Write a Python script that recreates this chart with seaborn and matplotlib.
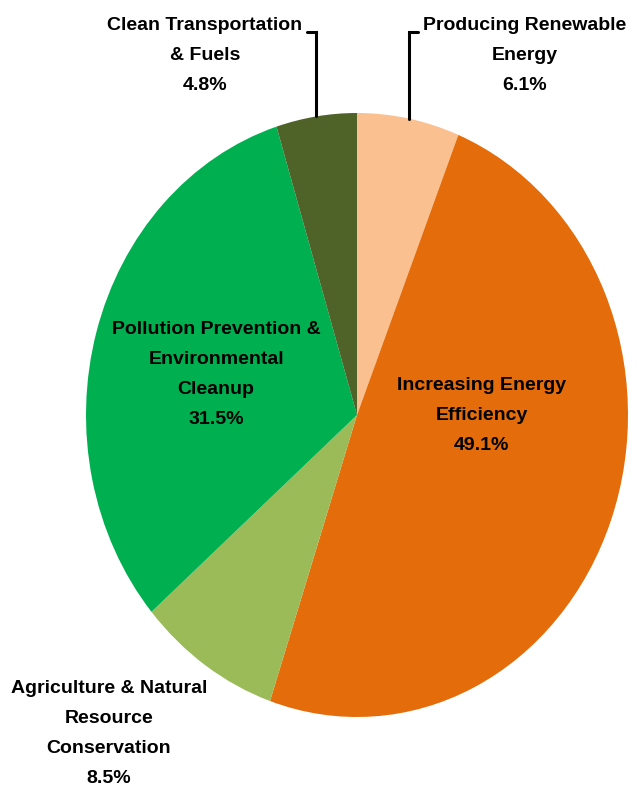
import matplotlib

matplotlib.use("Agg")

import matplotlib.pyplot as plt
import numpy as np
import seaborn as sns

categories = [
    "Producing Renewable\nEnergy",
    "Increasing Energy\nEfficiency",
    "Agriculture & Natural\nResource\nConservation",
    "Pollution Prevention &\nEnvironmental\nCleanup",
    "Clean Transportation\n& Fuels",
]
shares = [6.1, 49.1, 8.5, 31.5, 4.8]
colors = ["#FAC090", "#E46C0A", "#9BBB59", "#00B050", "#4F6228"]

# label centres in pie units (radius 1), taken from the reference layout
label_pos = [(0.620, 1.192), (0.461, 0.0), (-0.915, -1.055), (-0.520, 0.135), (-0.561, 1.192)]
# slices whose labels sit outside and need a leader line: index -> end of elbow
leaders = {0: (0.225, 1.268), 4: (-0.185, 1.268)}

sns.set_theme(style="white")
plt.rcParams["font.family"] = ["Liberation Sans Narrow", "Liberation Sans", "DejaVu Sans"]

fig = plt.figure(figsize=(6.37, 7.89), dpi=100)
ax = fig.add_axes([0, 0, 1, 1])

wedges, _ = ax.pie(
    shares,
    colors=sns.color_palette(colors),
    startangle=90,
    counterclock=False,
    radius=1,
    wedgeprops={"linewidth": 0},
)

ax.set_aspect("auto")
ax.set_xlim(-357 / 271, 280 / 271)
ax.set_ylim(-374 / 302, 415 / 302)
ax.axis("off")

for i, (name, value) in enumerate(zip(categories, shares)):
    x, y = label_pos[i]
    ax.text(
        x, y, f"{name}\n{value:.1f}%",
        ha="center", va="center", fontsize=14, fontweight="bold",
        color="black", linespacing=2.0,
    )
    if i in leaders:
        w = wedges[i]
        mid = np.deg2rad((w.theta1 + w.theta2) / 2)
        ax_x, ax_y = np.cos(mid), np.sin(mid)
        end_x, elbow_y = leaders[i]
        ax.plot([ax_x, ax_x, end_x], [ax_y, elbow_y, elbow_y],
                color="black", linewidth=2.2, clip_on=False, solid_joinstyle="miter")

fig.savefig("out.png", dpi=100)
